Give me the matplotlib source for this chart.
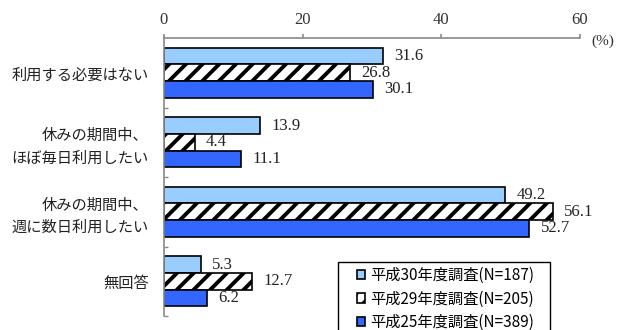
import matplotlib.pyplot as plt
from matplotlib.patches import Patch, Rectangle
import numpy as np

plt.rcParams['font.family'] = ['Liberation Serif', 'Noto Sans CJK JP']
plt.rcParams['hatch.linewidth'] = 2.8

categories = ['利用する必要はない', '休みの期間中、\nほぼ毎日利用したい',
              '休みの期間中、\n週に数日利用したい', '無回答']
series_names = ['平成30年度調査(N=187)', '平成29年度調査(N=205)', '平成25年度調査(N=389)']
h30 = [31.6, 13.9, 49.2, 5.3]
h29 = [26.8, 4.4, 56.1, 12.7]
h25 = [30.1, 11.1, 52.7, 6.2]

fills = ['#99ccff', 'white', '#3366ff']
hatches = ['', '//', '']

fig = plt.figure(figsize=(6.19, 3.30), dpi=100)
ax = fig.add_axes([164 / 619, 1 - 316 / 330, 416 / 619, 278 / 330])

y = np.arange(len(categories))
bh = 0.24
for i, vals in enumerate([h30, h29, h25]):
    pos = y + (i - 1) * bh
    ax.barh(pos, vals, height=bh, color=fills[i], hatch=hatches[i],
            edgecolor='black', linewidth=1.2)
    for p, v in zip(pos, vals):
        ax.text(v + 1.6, p, f'{v:.1f}', ha='left', va='center',
                fontsize=12, color='#222222', family='Liberation Serif')

ax.set_xlim(0, 60)
ax.set_ylim(len(categories) - 0.5, -0.5)
ax.xaxis.tick_top()
ax.set_xticks([0, 20, 40, 60])
ax.tick_params(axis='x', direction='out', length=3, width=1.2, color='#888888',
               labelsize=12, labelcolor='#333333', pad=4)
ax.set_yticks(y)
ax.set_yticklabels(categories, family='Noto Sans CJK JP', fontsize=11,
                   linespacing=1.4, color='#222222')
ax.tick_params(axis='y', which='major', length=0, pad=11)
ax.set_yticks(np.arange(len(categories)) + 0.5, minor=True)
ax.tick_params(axis='y', which='minor', direction='in', length=3, width=1,
               color='#888888')
for s in ['right', 'bottom']:
    ax.spines[s].set_visible(False)
for s in ['top', 'left']:
    ax.spines[s].set_color('#888888')
    ax.spines[s].set_linewidth(1.2)

fig.text(603 / 619, 1 - 41 / 330, '(%)', ha='center', va='center',
         fontsize=11, color='#333333')

# legend frame runs past the bottom edge, as in the source
fig.patches.append(Rectangle((338 / 619, -0.05), (550 - 338) / 619,
                             (330 - 262) / 330 + 0.05, transform=fig.transFigure,
                             facecolor='white', edgecolor='black', linewidth=1.0,
                             zorder=5))
handles = [Patch(facecolor=fills[i], hatch=hatches[i], edgecolor='black',
                 linewidth=1.2) for i in range(3)]
leg = fig.legend(handles, series_names, loc='upper left',
                 bbox_to_anchor=(357 / 619, 1 - 267 / 330),
                 prop={'family': 'Noto Sans CJK JP', 'size': 11},
                 handlelength=0.55, handleheight=0.55, handletextpad=0.3,
                 labelspacing=0.42, borderpad=0, frameon=False, borderaxespad=0)
leg.set_zorder(6)

fig.savefig('out.png', dpi=100)
